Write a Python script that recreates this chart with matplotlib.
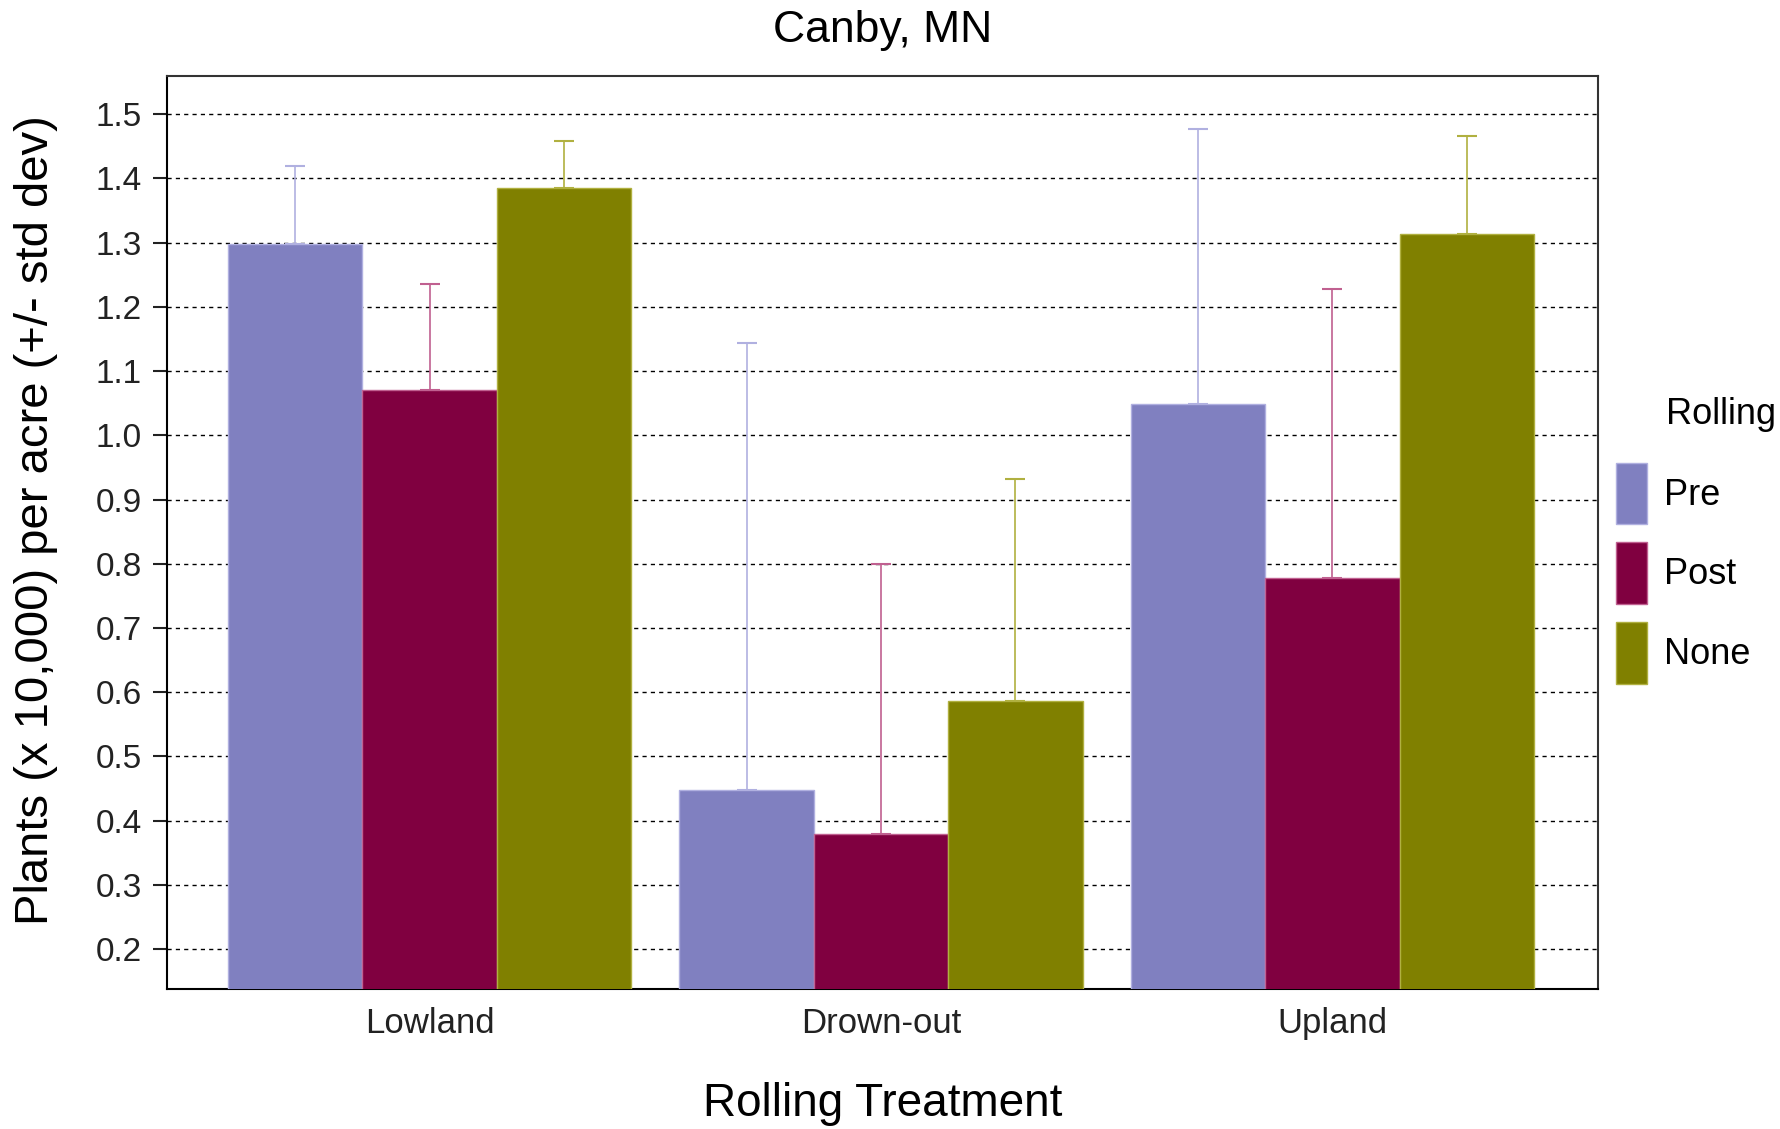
import matplotlib
matplotlib.use('Agg')
import matplotlib.pyplot as plt
import numpy as np

plt.rcParams['font.family'] = ['Liberation Sans', 'DejaVu Sans']

# data
sitios = ['Lowland', 'Drown-out', 'Upland']
rolling = ['Pre', 'Post', 'None']
medias = {
    'Pre':  [1.298, 0.448, 1.049],
    'Post': [1.070, 0.379, 0.778],
    'None': [1.385, 0.586, 1.313],
}
tope_error = {
    'Pre':  [1.419, 1.143, 1.477],
    'Post': [1.235, 0.800, 1.228],
    'None': [1.459, 0.932, 1.466],
}
colores = {'Pre': '#8080C0', 'Post': '#800040', 'None': '#808000'}
bordes = {'Pre': '#B0B0E0', 'Post': '#C06090', 'None': '#B0B040'}

fig = plt.figure(figsize=(17.81, 11.29), dpi=100, facecolor='w')
ax = fig.add_axes([0.0938, 0.124, 0.8035, 0.809])

x = np.arange(len(sitios))
ancho = 0.298

for ii, r in enumerate(rolling):
    pos = x + (ii - 1) * ancho
    vals = np.array(medias[r])
    err = np.array(tope_error[r]) - vals
    ax.bar(pos, vals, width=ancho, color=colores[r], edgecolor=bordes[r],
           linewidth=1, label=r, zorder=3)
    ax.errorbar(pos, vals, yerr=[np.zeros_like(err), err], fmt='none',
                ecolor=bordes[r], elinewidth=1.2, capsize=7, capthick=1.5,
                zorder=2)

ax.set_xlim(-0.582, 2.589)
ax.set_ylim(0.138, 1.56)
ax.set_yticks(np.arange(0.2, 1.51, 0.1))
ax.set_yticklabels(['%.1f' % v for v in np.arange(0.2, 1.51, 0.1)])
ax.set_xticks(x)
ax.set_xticklabels(sitios)

ax.yaxis.grid(True, color='black', linestyle=(0, (3, 3)), linewidth=1, zorder=1)
ax.set_axisbelow(True)

ax.tick_params(axis='y', labelsize=24, length=10, width=1.5, pad=8, colors='#222222')
ax.tick_params(axis='x', labelsize=25, length=0, pad=13, colors='#222222')
for s in ax.spines.values():
    s.set_linewidth(1.5)
    s.set_color('#333333')
ax.spines['left'].set_color('black')
ax.spines['bottom'].set_color('black')

ax.set_ylabel('Plants (x 10,000) per acre (+/- std dev)', fontsize=34)
ax.yaxis.set_label_coords(-0.076, 0.513)
ax.set_xlabel('Rolling Treatment', fontsize=33, labelpad=30)
ax.set_title('Canby, MN', fontsize=32, pad=24)

leg = ax.legend(loc='upper left', bbox_to_anchor=(0.899, 0.603),
                bbox_transform=fig.transFigure, frameon=False, fontsize=26,
                handlelength=0.88, handleheight=2.25, handletextpad=0.45,
                labelspacing=0.5, borderaxespad=0)
fig.text(0.9355, 0.633, 'Rolling', fontsize=26, ha='left', va='center')

plt.savefig('out.png', dpi=100)
